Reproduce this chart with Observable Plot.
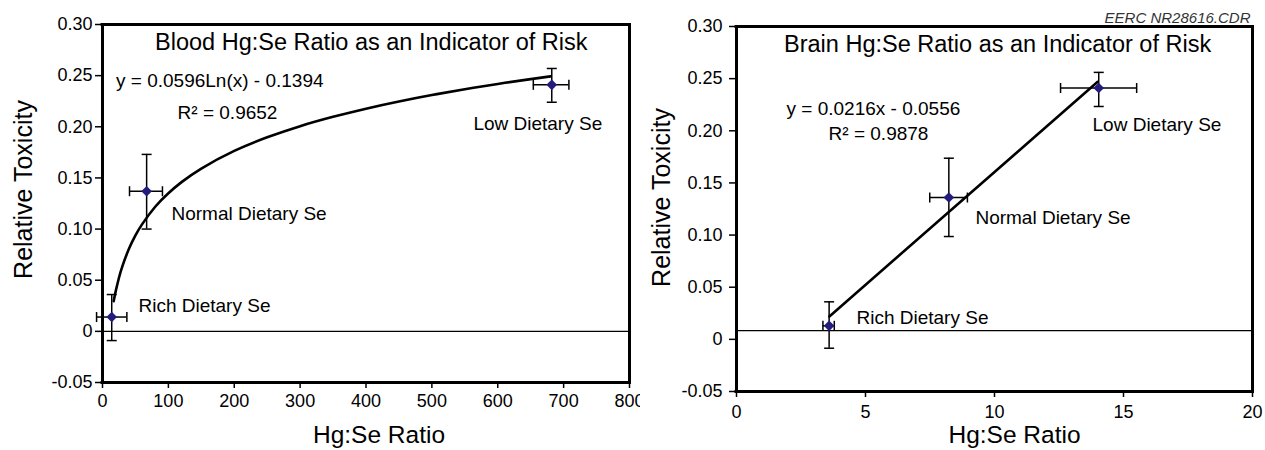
<!DOCTYPE html>
<html><head><meta charset="utf-8">
<script src="https://cdn.jsdelivr.net/npm/d3@7"></script>
<script src="https://cdn.jsdelivr.net/npm/@observablehq/plot@0.6"></script>
<style>
body{margin:0;background:#fff;}
#wrap{display:flex;width:1265px;height:450px;overflow:hidden;}
</style></head><body><div id="wrap"></div>
<script>
// ---- data ----
const groups = ["Rich Dietary Se", "Normal Dietary Se", "Low Dietary Se"];

// Blood panel
const bloodX   = [14, 67, 682];
const bloodY   = [0.014, 0.137, 0.241];
const bloodXLo = [-9, 41, 654];
const bloodXHi = [37, 91, 708];
const bloodYLo = [-0.009, 0.100, 0.224];
const bloodYHi = [0.036, 0.173, 0.257];
const bloodFitX = [17, 20, 25, 30, 40, 50, 60, 80, 100, 120, 150, 200, 250, 300, 350, 400, 450, 500, 550, 600, 650, 680];
const bloodFitY = [0.0295, 0.0391, 0.0524, 0.0633, 0.0805, 0.0938, 0.1046, 0.1218, 0.1351, 0.1459, 0.1592, 0.1764, 0.1897, 0.2006, 0.2097, 0.2177, 0.2247, 0.2310, 0.2367, 0.2419, 0.2466, 0.2493];
const bloodZero = [0];

// Brain panel
const brainX   = [3.59, 8.23, 14.04];
const brainY   = [0.013, 0.136, 0.241];
const brainXLo = [3.35, 7.49, 12.56];
const brainXHi = [3.79, 8.95, 15.51];
const brainYLo = [-0.0085, 0.0986, 0.2233];
const brainYHi = [0.036, 0.1737, 0.256];
const brainFitX = [3.6, 14.0];
const brainFitY = [0.022, 0.247];
const brainBase = [0.0083];

// ticks / domains
const bloodXDomain = [0, 800];
const brainXDomain = [0, 20];
const yDomain = [-0.05, 0.30];
const bloodXTicks = [0, 100, 200, 300, 400, 500, 600, 700, 800];
const brainXTicks = [0, 5, 10, 15, 20];
const yTicks = [-0.05, 0, 0.05, 0.10, 0.15, 0.20, 0.25, 0.30];

// texts
const bloodTitle = "Blood Hg:Se Ratio as an Indicator of Risk";
const brainTitle = "Brain Hg:Se Ratio as an Indicator of Risk";
const bloodEq = "y = 0.0596Ln(x) - 0.1394";
const bloodR2 = "R² = 0.9652";
const brainEq = "y = 0.0216x - 0.0556";
const brainR2 = "R² = 0.9878";
const xTitle = "Hg:Se Ratio";
const yTitle = "Relative Toxicity";
const stamp = "EERC NR28616.CDR";

// ---- helpers ----
const INK = "#000";
const MARK = "#231c7c";
const FONT = "'Liberation Sans', Arial, Helvetica, sans-serif";
const hcap = {draw(ctx, size) {const r = Math.sqrt(size / Math.PI); ctx.moveTo(-r, 0); ctx.lineTo(r, 0);}};
const vcap = {draw(ctx, size) {const r = Math.sqrt(size / Math.PI); ctx.moveTo(0, -r); ctx.lineTo(0, r);}};
const fmtY = d => d === 0 ? "0" : d.toFixed(2);

function rowsOf(xs, ys, xlo, xhi, ylo, yhi) {
  return groups.map((g, i) => ({g, x: xs[i], y: ys[i], xlo: xlo[i], xhi: xhi[i], ylo: ylo[i], yhi: yhi[i]}));
}
function errMarks(rows) {
  return [
    Plot.ruleX(rows, {x: "x", y1: "ylo", y2: "yhi", stroke: INK, strokeWidth: 1.5}),
    Plot.ruleY(rows, {y: "y", x1: "xlo", x2: "xhi", stroke: INK, strokeWidth: 1.5}),
    Plot.dot(rows, {x: "x", y: "ylo", symbol: hcap, r: 5, fill: "none", stroke: INK, strokeWidth: 1.5}),
    Plot.dot(rows, {x: "x", y: "yhi", symbol: hcap, r: 5, fill: "none", stroke: INK, strokeWidth: 1.5}),
    Plot.dot(rows, {x: "xlo", y: "y", symbol: vcap, r: 5, fill: "none", stroke: INK, strokeWidth: 1.5}),
    Plot.dot(rows, {x: "xhi", y: "y", symbol: vcap, r: 5, fill: "none", stroke: INK, strokeWidth: 1.5}),
    Plot.dot(rows, {x: "x", y: "y", symbol: "diamond2", r: 4.8, fill: MARK, stroke: "none"})
  ];
}
function frameMarks(xd) {
  return [
    Plot.frame({stroke: INK, strokeWidth: 3}),
    Plot.ruleX(xd, {stroke: INK, strokeWidth: 3}),
    Plot.ruleY(yDomain, {x1: xd[0], x2: xd[1], stroke: INK, strokeWidth: 3, strokeLinecap: "square"})
  ];
}

// ---- Blood panel ----
const bloodRows = rowsOf(bloodX, bloodY, bloodXLo, bloodXHi, bloodYLo, bloodYHi);
const bloodFit = bloodFitX.map((x, i) => ({x, y: bloodFitY[i]}));
const bloodLabelPos = [{x: 54.6, y: 0.0253}, {x: 104.7, y: 0.1152}, {x: 563, y: 0.2032}];

const left = Plot.plot({
  width: 640, height: 450,
  marginLeft: 102, marginRight: 11, marginTop: 24, marginBottom: 68,
  style: {fontFamily: FONT, fontSize: "18px", color: INK, background: "white", overflow: "visible"},
  x: {domain: bloodXDomain, label: null},
  y: {domain: yDomain, label: null},
  marks: [
    Plot.ruleY(bloodZero, {stroke: INK, strokeWidth: 1.2}),
    Plot.line(bloodFit, {x: "x", y: "y", curve: "natural", stroke: INK, strokeWidth: 2.6}),
    ...errMarks(bloodRows),
    Plot.axisX({ticks: bloodXTicks, tickSize: 6, tickPadding: 6, tickFormat: d => String(d), label: null, fontSize: 18, stroke: INK, strokeWidth: 1.5}),
    Plot.axisY({ticks: yTicks, tickSize: 7, tickPadding: 3, tickFormat: fmtY, label: null, fontSize: 18, stroke: INK, strokeWidth: 1.5}),
    ...frameMarks(bloodXDomain),
    Plot.text(bloodRows, {x: (d, i) => bloodLabelPos[i].x, y: (d, i) => bloodLabelPos[i].y, text: "g", textAnchor: "start", fontSize: 19, fill: INK}),
    Plot.text([bloodTitle], {x: 408, y: 0.2824, text: d => d, textAnchor: "middle", fontSize: 23.5, fill: INK}),
    Plot.text([bloodEq], {x: 20.5, y: 0.2453, text: d => d, textAnchor: "start", fontSize: 19, fill: INK}),
    Plot.text([bloodR2], {x: 114, y: 0.214, text: d => d, textAnchor: "start", fontSize: 19, fill: INK}),
    Plot.text([yTitle], {frameAnchor: "left", dx: -78.5, dy: -14, rotate: -90, textAnchor: "middle", lineAnchor: "middle", text: d => d, fontSize: 25, fill: INK}),
    Plot.text([xTitle], {frameAnchor: "bottom", dx: 13, dy: 53, textAnchor: "middle", lineAnchor: "middle", text: d => d, fontSize: 24.5, fill: INK})
  ]
});

// ---- Brain panel ----
const brainRows = rowsOf(brainX, brainY, brainXLo, brainXHi, brainYLo, brainYHi);
const brainFit = brainFitX.map((x, i) => ({x, y: brainFitY[i]}));
const brainLabelPos = [{x: 4.65, y: 0.021}, {x: 9.26, y: 0.1169}, {x: 13.8, y: 0.206}];

const right = Plot.plot({
  width: 625, height: 450,
  marginLeft: 96, marginRight: 13, marginTop: 26, marginBottom: 59,
  style: {fontFamily: FONT, fontSize: "18px", color: INK, background: "white", overflow: "visible"},
  x: {domain: brainXDomain, label: null},
  y: {domain: yDomain, label: null},
  marks: [
    Plot.ruleY(brainBase, {stroke: INK, strokeWidth: 1.2}),
    Plot.line(brainFit, {x: "x", y: "y", stroke: INK, strokeWidth: 2.6}),
    ...errMarks(brainRows),
    Plot.axisX({ticks: brainXTicks, tickSize: 6, tickPadding: 8, tickFormat: d => String(d), label: null, fontSize: 18, stroke: INK, strokeWidth: 1.5}),
    Plot.axisY({ticks: yTicks, tickSize: 7, tickPadding: 7, tickFormat: fmtY, label: null, fontSize: 18, stroke: INK, strokeWidth: 1.5}),
    ...frameMarks(brainXDomain),
    Plot.text(brainRows, {x: (d, i) => brainLabelPos[i].x, y: (d, i) => brainLabelPos[i].y, text: "g", textAnchor: "start", fontSize: 19, fill: INK}),
    Plot.text([brainTitle], {x: 10.12, y: 0.2827, text: d => d, textAnchor: "middle", fontSize: 23.5, fill: INK}),
    Plot.text([brainEq], {x: 1.94, y: 0.2214, text: d => d, textAnchor: "start", fontSize: 19, fill: INK}),
    Plot.text([brainR2], {x: 3.57, y: 0.1974, text: d => d, textAnchor: "start", fontSize: 19, fill: INK}),
    Plot.text([yTitle], {frameAnchor: "left", dx: -75, dy: -11.5, rotate: -90, textAnchor: "middle", lineAnchor: "middle", text: d => d, fontSize: 25, fill: INK}),
    Plot.text([xTitle], {frameAnchor: "bottom", dx: 20, dy: 44, textAnchor: "middle", lineAnchor: "middle", text: d => d, fontSize: 24.5, fill: INK}),
    Plot.text([stamp], {frameAnchor: "top-right", dx: -2, dy: -4, lineAnchor: "bottom", textAnchor: "end", text: d => d, fontSize: 15, fontStyle: "italic", fill: "#333"})
  ]
});

const wrap = document.getElementById("wrap");
wrap.append(left, right);
</script>
</body></html>
